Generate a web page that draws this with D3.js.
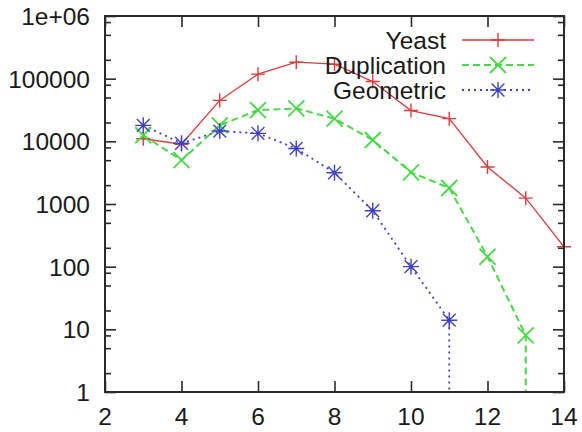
<!DOCTYPE html>
<html><head><meta charset="utf-8">
<script src="https://cdn.jsdelivr.net/npm/d3@7"></script>
<style>html,body{margin:0;padding:0;background:#fff;} svg{display:block;}</style>
</head><body>
<script>
// ---- data ----
const xTicks = [2, 4, 6, 8, 10, 12, 14];
const yTicks = [1, 10, 100, 1000, 10000, 100000, 1000000];
const yTickLabels = ["1", "10", "100", "1000", "10000", "100000", "1e+06"];
const yMinorSteps = [2, 5, 8];

const yeastX = [3, 4, 5, 6, 7, 8, 9, 10, 11, 12, 13, 14];
const yeastY = [11000, 9000, 45000, 118000, 183000, 170000, 90000, 31000, 23000, 3900, 1240, 208];

// last entry (value 0) drops below the axis, as the original line does
const dupX = [3, 4, 5, 6, 7, 8, 9, 10, 11, 12, 13, 13];
const dupY = [12500, 5000, 18000, 31500, 33500, 23000, 10500, 3200, 1800, 144, 8, 0];

const geoX = [3, 4, 5, 6, 7, 8, 9, 10, 11, 11];
const geoY = [18000, 9300, 14600, 13400, 7700, 3150, 780, 100, 14, 0];

const seriesNames = ["Yeast", "Duplication", "Geometric"];

// ---- layout ----
const W = 582, H = 432;
const m = {left: 105, right: 18, top: 16, bottom: 40};
const FONT = "'Liberation Sans', Arial, Helvetica, sans-serif";

const svg = d3.select("body").append("svg").attr("width", W).attr("height", H);

const x = d3.scaleLinear().domain([2, 14]).range([m.left, W - m.right]);
const y = d3.scaleLog().domain([1, 1e6]).range([H - m.bottom, m.top]);
const yv = v => v > 0 ? y(v) : y.range()[0] + 20;

svg.append("defs").append("clipPath").attr("id", "clip")
  .append("rect").attr("x", m.left).attr("y", m.top)
  .attr("width", W - m.left - m.right).attr("height", H - m.top - m.bottom);

// ---- axes (ticks inward on all four sides) ----
const minorVals = [];
for (let e = 0; e < 6; e++) yMinorSteps.forEach(k => minorVals.push(k * Math.pow(10, e)));

const axisColor = "#2a2a2a";
function styleAxis(g) {
  g.select(".domain").remove();
  g.selectAll(".tick line").attr("stroke", axisColor).attr("stroke-width", 1.6);
}

svg.append("g").attr("transform", `translate(${m.left},0)`)
  .call(d3.axisRight(y).tickValues(yTicks).tickSize(11).tickFormat(""))
  .call(styleAxis);
svg.append("g").attr("transform", `translate(${m.left},0)`)
  .call(d3.axisRight(y).tickValues(minorVals).tickSize(6).tickFormat(""))
  .call(styleAxis);
svg.append("g").attr("transform", `translate(${W - m.right},0)`)
  .call(d3.axisLeft(y).tickValues(yTicks).tickSize(11).tickFormat(""))
  .call(styleAxis);
svg.append("g").attr("transform", `translate(${W - m.right},0)`)
  .call(d3.axisLeft(y).tickValues(minorVals).tickSize(6).tickFormat(""))
  .call(styleAxis);
svg.append("g").attr("transform", `translate(0,${H - m.bottom})`)
  .call(d3.axisTop(x).tickValues(xTicks).tickSize(11).tickFormat(""))
  .call(styleAxis);
svg.append("g").attr("transform", `translate(0,${m.top})`)
  .call(d3.axisBottom(x).tickValues(xTicks).tickSize(11).tickFormat(""))
  .call(styleAxis);

// tick labels
svg.append("g").selectAll("text").data(yTicks).join("text")
  .attr("x", m.left - 15).attr("y", d => y(d) + 9)
  .attr("text-anchor", "end").attr("font-family", FONT).attr("font-size", 24.5)
  .attr("fill", "#1a1a1a")
  .text((d, i) => yTickLabels[i]);
svg.append("g").selectAll("text").data(xTicks).join("text")
  .attr("x", d => x(d)).attr("y", H - 7)
  .attr("text-anchor", "middle").attr("font-family", FONT).attr("font-size", 24.5)
  .attr("fill", "#1a1a1a")
  .text(d => d);

// ---- series ----
const series = [
  {name: seriesNames[0], xs: yeastX, ys: yeastY, color: "#e03a3e", width: 1.3, dash: null, marker: "plus"},
  {name: seriesNames[1], xs: dupX, ys: dupY, color: "#48d848", width: 2, dash: "7,4", marker: "cross"},
  {name: seriesNames[2], xs: geoX, ys: geoY, color: "#4040c4", width: 1.8, dash: "2,4", marker: "star"}
];

const line = d3.line().x(d => x(d[0])).y(d => yv(d[1]));

function markerPath(type, s) {
  const plus = `M${-s},0H${s}M0,${-s}V${s}`;
  const cross = `M${-s},${-s}L${s},${s}M${-s},${s}L${s},${-s}`;
  if (type === "plus") return plus;
  if (type === "cross") return cross;
  const c = s * 0.8;
  return `M${-s},0H${s}M0,${-s}V${s}M${-c},${-c}L${c},${c}M${-c},${c}L${c},${-c}`;
}
const mSize = {plus: 7, cross: 8, star: 8};

const plot = svg.append("g").attr("clip-path", "url(#clip)");
series.forEach(s => {
  const pts = s.xs.map((xx, i) => [xx, s.ys[i]]);
  plot.append("path").datum(pts)
    .attr("d", line).attr("fill", "none")
    .attr("stroke", s.color).attr("stroke-width", s.width)
    .attr("stroke-dasharray", s.dash);
  svg.append("g").selectAll("path").data(pts.filter(p => p[1] > 0)).join("path")
    .attr("transform", p => `translate(${x(p[0])},${y(p[1])})`)
    .attr("d", markerPath(s.marker, mSize[s.marker]))
    .attr("stroke", s.color).attr("stroke-width", s.marker === "cross" ? 1.8 : 1.4)
    .attr("fill", "none");
});

// ---- frame ----
svg.append("rect").attr("x", m.left).attr("y", m.top)
  .attr("width", W - m.left - m.right).attr("height", H - m.top - m.bottom)
  .attr("fill", "none").attr("stroke", axisColor).attr("stroke-width", 2);

// ---- legend ----
const leg = svg.append("g");
series.forEach((s, i) => {
  const ly = 40 + i * 25;
  leg.append("text").attr("x", 446).attr("y", ly + 9)
    .attr("text-anchor", "end").attr("font-family", FONT).attr("font-size", 24.5)
    .attr("fill", "#1a1a1a").text(s.name);
  leg.append("line").attr("x1", 462).attr("x2", 534).attr("y1", ly).attr("y2", ly)
    .attr("stroke", s.color).attr("stroke-width", s.width).attr("stroke-dasharray", s.dash);
  leg.append("path").attr("transform", `translate(498,${ly})`)
    .attr("d", markerPath(s.marker, mSize[s.marker]))
    .attr("stroke", s.color).attr("stroke-width", s.marker === "cross" ? 1.8 : 1.4)
    .attr("fill", "none");
});
</script>
</body></html>
